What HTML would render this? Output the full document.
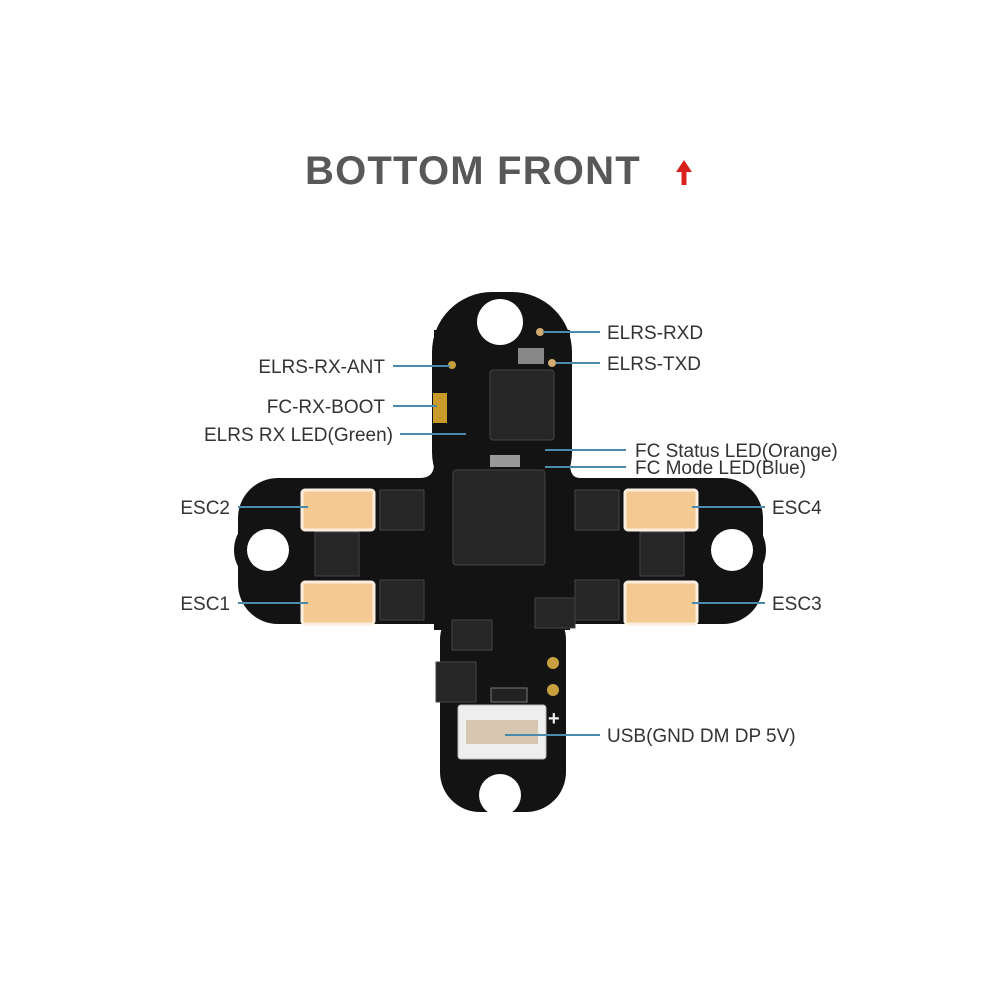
<!DOCTYPE html>
<html><head><style>
html,body{margin:0;padding:0;background:#fff;}
</style></head><body>
<svg width="1000" height="1000" viewBox="0 0 1000 1000" xmlns="http://www.w3.org/2000/svg" font-family="Liberation Sans, sans-serif">
<rect width="1000" height="1000" fill="#fff"/>
<text x="305" y="184" font-size="40" font-weight="bold" fill="#585858" letter-spacing="1.2">BOTTOM FRONT</text>
<path d="M684 160 L676 172 L681.5 172 L681.5 185 L686.5 185 L686.5 172 L692 172 Z" fill="#d8201c"/>
<!-- board -->
<g fill="#131313">
<rect x="432" y="292" width="140" height="220" rx="60"/>
<rect x="434" y="330" width="136" height="300"/>
<rect x="238" y="478" width="525" height="146" rx="40"/>
<circle cx="270" cy="550" r="36"/>
<circle cx="730" cy="550" r="36"/>
<rect x="440" y="600" width="126" height="212" rx="40"/>
<path d="M420 478 Q434 478 434 464 L434 478Z M580 478 Q570 478 570 464 L570 478Z"/>
</g>
<g fill="#fff">
<circle cx="500" cy="322" r="23"/>
<circle cx="268" cy="550" r="21"/>
<circle cx="732" cy="550" r="21"/>
<circle cx="500" cy="795" r="21"/>
</g>
<!-- chips -->
<g fill="#262626" stroke="#444" stroke-width="1">
<rect x="453" y="470" width="92" height="95" rx="3"/>
<rect x="490" y="370" width="64" height="70" rx="3"/>
<rect x="380" y="490" width="44" height="40"/>
<rect x="380" y="580" width="44" height="40"/>
<rect x="575" y="490" width="44" height="40"/>
<rect x="575" y="580" width="44" height="40"/>
<rect x="315" y="532" width="44" height="44"/>
<rect x="640" y="532" width="44" height="44"/>
<rect x="452" y="620" width="40" height="30"/>
<rect x="535" y="598" width="40" height="30"/>
<rect x="436" y="662" width="40" height="40"/>
</g>
<rect x="490" y="455" width="30" height="12" fill="#999"/>
<rect x="518" y="348" width="26" height="16" fill="#888"/>
<rect x="491" y="688" width="36" height="14" fill="#222" stroke="#777"/>
<rect x="433" y="393" width="14" height="30" fill="#c99a2c"/>
<circle cx="452" cy="365" r="4" fill="#c9a040"/>
<circle cx="540" cy="332" r="4" fill="#d4aa70"/>
<circle cx="552" cy="363" r="4" fill="#d4aa70"/>
<circle cx="553" cy="663" r="6" fill="#c9a040"/>
<circle cx="553" cy="690" r="6" fill="#c9a040"/>
<text x="548" y="725" font-size="20" font-weight="bold" fill="#eee">+</text>
<!-- connectors -->
<g fill="#f4c992" stroke="#fbeede" stroke-width="3">
<rect x="302" y="490" width="72" height="40" rx="3"/>
<rect x="302" y="582" width="72" height="42" rx="3"/>
<rect x="625" y="490" width="72" height="40" rx="3"/>
<rect x="625" y="582" width="72" height="42" rx="3"/>
</g>
<rect x="458" y="705" width="88" height="54" rx="3" fill="#eee" stroke="#bbb"/>
<rect x="466" y="720" width="72" height="24" fill="#d8c7b0"/>
<!-- leader lines -->
<g stroke="#4a8aaa" stroke-width="2">
<line x1="543" y1="332" x2="600" y2="332"/>
<line x1="556" y1="363" x2="600" y2="363"/>
<line x1="393" y1="366" x2="450" y2="366"/>
<line x1="393" y1="406" x2="437" y2="406"/>
<line x1="400" y1="434" x2="466" y2="434"/>
<line x1="545" y1="450" x2="626" y2="450"/>
<line x1="545" y1="467" x2="626" y2="467"/>
<line x1="238" y1="507" x2="308" y2="507"/>
<line x1="238" y1="603" x2="308" y2="603"/>
<line x1="692" y1="507" x2="765" y2="507"/>
<line x1="692" y1="603" x2="765" y2="603"/>
<line x1="505" y1="735" x2="600" y2="735"/>
</g>
<g font-size="19" fill="#333">
<text x="607" y="339">ELRS-RXD</text>
<text x="607" y="370">ELRS-TXD</text>
<text x="385" y="373" text-anchor="end">ELRS-RX-ANT</text>
<text x="385" y="413" text-anchor="end">FC-RX-BOOT</text>
<text x="393" y="441" text-anchor="end">ELRS RX LED(Green)</text>
<text x="635" y="457">FC Status LED(Orange)</text>
<text x="635" y="474">FC Mode LED(Blue)</text>
<text x="230" y="514" text-anchor="end">ESC2</text>
<text x="230" y="610" text-anchor="end">ESC1</text>
<text x="772" y="514">ESC4</text>
<text x="772" y="610">ESC3</text>
<text x="607" y="742">USB(GND DM DP 5V)</text>
</g>
</svg>
</body></html>
